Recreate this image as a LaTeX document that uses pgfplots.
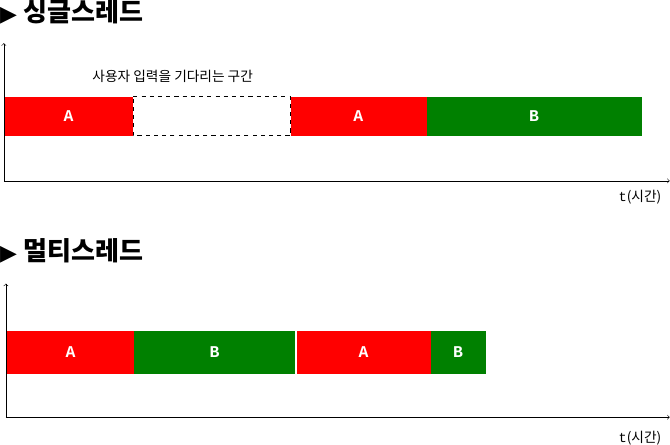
\documentclass[border=0pt]{standalone}
\usepackage{pgfplots}
\pgfplotsset{compat=1.18}
\usepackage{fontspec}
\newfontfamily\kr{Noto Sans CJK KR}
\newfontfamily\dv{DejaVu Sans}
\newfontfamily\mono{Liberation Mono}
\definecolor{rr}{RGB}{255,0,0}
\definecolor{gg}{RGB}{0,128,0}
\begin{document}
\begin{tikzpicture}
\begin{axis}[hide axis, scale only axis, width=502.5pt, height=332.25pt,
  xmin=0, xmax=670, ymin=0, ymax=443, y dir=reverse, clip=false]
% top panel
\addplot[fill=rr, draw=none] coordinates {(12,100)(138,100)(138,138)(12,138)} --cycle;
\addplot[fill=white, draw=black, dashed] coordinates {(138,100)(291,100)(291,138)(138,138)} --cycle;
\addplot[fill=rr, draw=none] coordinates {(291,100)(424,100)(424,138)(291,138)} --cycle;
\addplot[fill=gg, draw=none] coordinates {(424,100)(633,100)(633,138)(424,138)} --cycle;
\addplot[->, black, thin] coordinates {(12,182)(660,182)};
\addplot[->, black, thin] coordinates {(12,182)(12,48)};
% bottom panel
\addplot[fill=rr, draw=none] coordinates {(14,328)(139,328)(139,370)(14,370)} --cycle;
\addplot[fill=gg, draw=none] coordinates {(139,328)(295,328)(295,370)(139,370)} --cycle;
\addplot[fill=rr, draw=none] coordinates {(297,328)(428,328)(428,370)(297,370)} --cycle;
\addplot[fill=gg, draw=none] coordinates {(428,328)(481,328)(481,370)(428,370)} --cycle;
\addplot[->, black, thin] coordinates {(14,412)(660,412)};
\addplot[->, black, thin] coordinates {(14,412)(14,282)};
% texts
\node[anchor=west, inner sep=0] at (axis cs:8,18) {\dv\fontsize{16}{16}\selectfont ▶\ \kr\bfseries\fontsize{19}{19}\selectfont 싱글스레드};
\node[anchor=west, inner sep=0] at (axis cs:8,250) {\dv\fontsize{16}{16}\selectfont ▶\ \kr\bfseries\fontsize{19}{19}\selectfont 멀티스레드};
\node[anchor=west, inner sep=0] at (axis cs:98,80) {\kr\fontsize{10}{10}\selectfont 사용자 입력을 기다리는 구간};
\node[anchor=east, inner sep=0] at (axis cs:652,198) {\fontsize{10}{10}\selectfont\mono t\kr(시간)};
\node[anchor=east, inner sep=0] at (axis cs:652,432) {\fontsize{10}{10}\selectfont\mono t\kr(시간)};
\node[white] at (axis cs:75,119) {\mono\bfseries\fontsize{12}{12}\selectfont A};
\node[white] at (axis cs:357,119) {\mono\bfseries\fontsize{12}{12}\selectfont A};
\node[white] at (axis cs:528,119) {\mono\bfseries\fontsize{12}{12}\selectfont B};
\node[white] at (axis cs:77,349) {\mono\bfseries\fontsize{12}{12}\selectfont A};
\node[white] at (axis cs:217,349) {\mono\bfseries\fontsize{12}{12}\selectfont B};
\node[white] at (axis cs:362,349) {\mono\bfseries\fontsize{12}{12}\selectfont A};
\node[white] at (axis cs:454,349) {\mono\bfseries\fontsize{12}{12}\selectfont B};
\end{axis}
\end{tikzpicture}
\end{document}
